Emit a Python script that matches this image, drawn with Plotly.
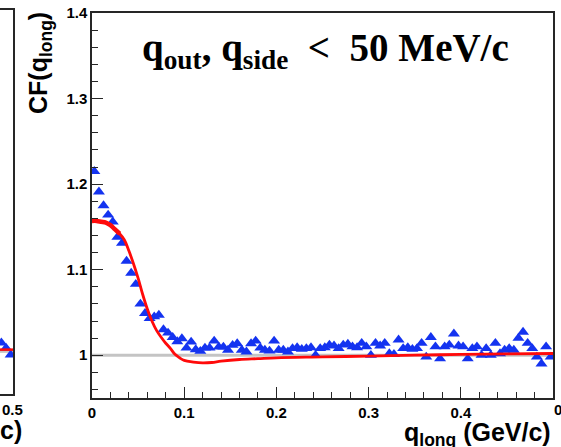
import plotly.graph_objects as go

# ---------------- data ----------------
q_centers = [round(0.0025 + 0.005 * i, 4) for i in range(100)]  # bin centres (GeV/c)
cf_values = [
    1.215, 1.191, 1.175, 1.164, 1.156, 1.138, 1.131, 1.110, 1.096, 1.083,
    1.060, 1.049, 1.043, 1.045, 1.047, 1.030, 1.026, 1.021, 1.016, 1.0195,
    1.0085, 1.0156, 1.0066, 1.0047, 1.0085, 1.0085, 1.0167, 1.0097, 1.0097, 1.006,
    1.0117, 1.0137, 1.006, 1.004, 1.0137, 1.0167, 1.0085, 1.006, 1.005, 1.0167,
    1.006, 1.006, 1.004, 1.008, 1.009, 1.007, 1.008, 1.009, 1.000, 1.008,
    1.009, 1.012, 1.011, 1.008, 1.012, 1.013, 1.010, 1.009, 1.014, 1.010,
    1.000, 1.014, 1.011, 1.014, 1.002, 1.001, 1.018, 1.008, 1.009, 1.007,
    1.008, 1.014, 0.998, 1.021, 1.010, 0.996, 1.010, 1.012, 1.025, 1.011,
    1.010, 0.996, 1.008, 1.010, 1.000, 1.008, 1.000, 1.014, 1.002, 1.006,
    1.008, 1.006, 1.020, 1.027, 1.014, 1.008, 0.998, 0.990, 1.010, 0.998,
]

fit_q = [0, 0.005, 0.01, 0.015, 0.02, 0.025, 0.03, 0.035, 0.04, 0.045, 0.05,
         0.055, 0.06, 0.065, 0.07, 0.075, 0.08, 0.085, 0.09, 0.095, 0.10,
         0.11, 0.12, 0.13, 0.14, 0.16, 0.18, 0.20, 0.25, 0.30, 0.35, 0.40,
         0.45, 0.50]
fit_cf = [1.157, 1.157, 1.156, 1.155, 1.152, 1.147, 1.142, 1.135, 1.122, 1.107,
          1.090, 1.071, 1.054, 1.040, 1.029, 1.021, 1.014, 1.008, 1.001, 0.997,
          0.994, 0.992, 0.991, 0.9915, 0.993, 0.995, 0.996, 0.997, 0.998, 0.999,
          1.000, 1.001, 1.0015, 1.002]
fit_thick_q = [0, 0.005, 0.01, 0.015, 0.02, 0.025, 0.03]
fit_thick_cf = [1.157, 1.157, 1.156, 1.155, 1.152, 1.147, 1.142]

ref_q = [0, 0.5]
ref_cf = [1, 1]

# neighbouring (left) panel fragment
left_q = [0.4875, 0.4925, 0.4975]
left_cf = [1.010, 1.004, 0.996]
left_fit_q = [0.486, 0.5]
left_fit_cf = [1.002, 1.002]

x_ticks = [0, 0.1, 0.2, 0.3, 0.4, 0.5]
x_ticktext = ["0", "0.1", "0.2", "0.3", "0.4", ""]
y_ticks = [1.0, 1.1, 1.2, 1.3, 1.4]
y_ticktext = ["1", "1.1", "1.2", "1.3", "1.4"]

BLUE = "#1433f0"
RED = "#ff0a0a"
GREY = "#c4c4c4"
W, H = 561, 447

fig = go.Figure()

# main panel
fig.add_trace(go.Scatter(x=ref_q, y=ref_cf, mode="lines",
                         line=dict(color=GREY, width=3), hoverinfo="skip"))
fig.add_trace(go.Scatter(x=q_centers, y=cf_values, mode="markers",
                         marker=dict(symbol="triangle-up", size=10.5, color=BLUE,
                                     line=dict(width=0))))
fig.add_trace(go.Scatter(x=fit_q, y=fit_cf, mode="lines", line_shape="spline",
                         line=dict(color=RED, width=2.8)))
fig.add_trace(go.Scatter(x=fit_thick_q, y=fit_thick_cf, mode="lines", line_shape="spline",
                         line=dict(color=RED, width=4.5)))

# left panel fragment
fig.add_trace(go.Scatter(x=[0.486, 0.5], y=ref_cf, mode="lines", xaxis="x2", yaxis="y2",
                         line=dict(color=GREY, width=3)))
fig.add_trace(go.Scatter(x=left_q, y=left_cf, mode="markers", xaxis="x2", yaxis="y2",
                         marker=dict(symbol="triangle-up", size=10.5, color=BLUE,
                                     line=dict(width=0))))
fig.add_trace(go.Scatter(x=left_fit_q, y=left_fit_cf, mode="lines", xaxis="x2", yaxis="y2",
                         line=dict(color=RED, width=2.5)))

tickfont = dict(family="Liberation Sans, Arial, sans-serif", size=15, color="black",
                weight="bold")
axcol = "#262626"

fig.update_layout(
    width=W, height=H,
    margin=dict(l=0, r=0, t=0, b=0, autoexpand=False),
    paper_bgcolor="white", plot_bgcolor="white",
    showlegend=False,
    xaxis=dict(domain=[92 / W, 553 / W], range=[0, 0.5], anchor="y",
               showline=True, linecolor=axcol, linewidth=1.5, mirror=True,
               ticks="inside", ticklen=11, tickwidth=1, tickcolor=axcol,
               tickmode="array", tickvals=x_ticks, ticktext=x_ticktext,
               minor=dict(ticks="inside", ticklen=6, tickwidth=1, tickcolor=axcol,
                          tick0=0, dtick=0.02),
               showgrid=False, zeroline=False, tickfont=tickfont),
    yaxis=dict(domain=[49 / H, 434 / H], range=[0.95, 1.4], anchor="x",
               showline=True, linecolor=axcol, linewidth=1.5, mirror=True,
               ticks="inside", ticklen=11, tickwidth=1, tickcolor=axcol,
               tickmode="array", tickvals=y_ticks, ticktext=y_ticktext,
               minor=dict(ticks="inside", ticklen=6, tickwidth=1, tickcolor=axcol,
                          tick0=1.0, dtick=0.02),
               showgrid=False, zeroline=False, tickfont=tickfont),
    xaxis2=dict(domain=[0, 13 / W], range=[0.486, 0.5], anchor="y2",
                showline=True, linecolor=axcol, linewidth=1.5, mirror=True,
                ticks="", showticklabels=False, showgrid=False, zeroline=False),
    yaxis2=dict(domain=[53 / H, 437 / H], range=[0.95, 1.4], anchor="x2", side="right",
                showline=True, linecolor=axcol, linewidth=1.5, mirror=False,
                ticks="", showticklabels=False, showgrid=False, zeroline=False),
)

lab = dict(family="Liberation Sans, Arial, sans-serif", size=25, color="black",
           weight="bold")
fig.add_annotation(text="q<sub>out</sub>, q<sub>side</sub>  &lt;  50 MeV/c",
                   xref="paper", yref="paper", x=140 / W, y=1 - 50 / H,
                   xanchor="left", yanchor="middle", showarrow=False,
                   font=dict(family="Liberation Serif, DejaVu Serif, serif", size=39,
                             color="black", weight="bold"))
fig.add_annotation(text="q<sub>long</sub> (GeV/c)", xref="paper", yref="paper",
                   x=553 / W, y=1 - 434 / H, xanchor="right", yanchor="middle",
                   showarrow=False, font=lab)
fig.add_annotation(text="CF(q<sub>long</sub>)", xref="paper", yref="paper",
                   x=40 / W, y=1 - 10 / H, xanchor="center", yanchor="top",
                   textangle=-90, showarrow=False, font=lab)
fig.add_annotation(text="0.5", xref="paper", yref="paper", x=552 / W, y=1 - 399 / H,
                   xanchor="left", yanchor="top", showarrow=False, font=tickfont)
fig.add_annotation(text="0.5", xref="paper", yref="paper", x=0, y=1 - 399 / H,
                   xanchor="left", yanchor="top", showarrow=False, font=tickfont)
fig.add_annotation(text="c)", xref="paper", yref="paper", x=-2 / W, y=1 - 430 / H,
                   xanchor="left", yanchor="middle", showarrow=False, font=lab)

fig.write_html("out.html")
